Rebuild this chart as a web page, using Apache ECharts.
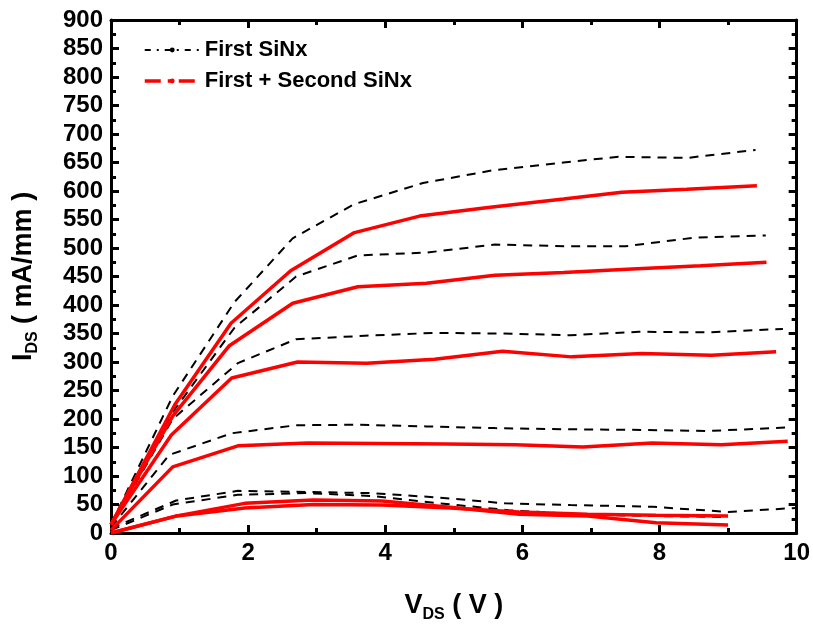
<!DOCTYPE html>
<html><head><meta charset="utf-8">
<script src="https://cdn.jsdelivr.net/npm/echarts@6/dist/echarts.min.js"></script>
<style>html,body{margin:0;padding:0;background:#fff}#c{width:813px;height:628px}</style>
</head><body><div id="c"></div>
<script>
// First SiNx (black dashed)
const vdsB1 = [0,0.9,1.8,2.65,3.55,4.55,5.55,6.6,7.4,8.4,9.4];
const idsB1 = [15,240,405,517,577,614,636,650,660,658,672];
const vdsB2 = [0,0.9,1.8,2.7,3.6,4.6,5.6,6.7,7.5,8.5,9.55];
const idsB2 = [15,212,360,450,487,492,506,503,503,518,522];
const vdsB3 = [0,0.9,1.85,2.7,3.7,4.7,5.7,6.7,7.7,8.7,9.8];
const idsB3 = [12,200,298,340,346,351,350,347,353,352,358];
const vdsB4 = [0,0.85,1.76,2.7,3.6,4.6,5.6,6.6,7.6,8.7,9.85];
const idsB4 = [10,137,175,189,190,187,184,182,181,179,185];
const vdsB5a = [0,0.95,1.85,2.85,3.8,4.8,5.75,6.7,7.9,9.0,10];
const idsB5a = [8,57,74,72,70,62,52,49,46,37,44];
const vdsB5b = [0,0.9,1.85,2.85,3.8,4.8,5.8,6.8,7.8,9.0];
const idsB5b = [5,50,67,70,65,52,40,33,30,28];
// First + Second SiNx (red solid)
const vdsR1 = [0,0.93,1.75,2.62,3.55,4.5,5.5,6.6,7.45,8.4,9.42];
const idsR1 = [15,225,368,460,527,556,571,586,598,603,609];
const vdsR2 = [0,0.9,1.72,2.65,3.6,4.6,5.6,6.6,7.6,8.6,9.56];
const idsR2 = [15,205,328,403,432,438,452,457,463,469,475];
const vdsR3 = [0,0.88,1.76,2.72,3.73,4.72,5.71,6.72,7.74,8.76,9.7];
const idsR3 = [15,172,272,300,298,305,319,309,315,312,318];
const vdsR4 = [0,0.9,1.85,2.87,3.9,4.9,5.9,6.88,7.89,8.9,9.87];
const idsR4 = [5,116,153,158,157,156,155,151,158,155,161];
const vdsR5a = [0,0.96,1.95,2.95,3.95,4.95,5.95,6.95,7.95,9.0];
const idsR5a = [0,30,52,58,56,45,33,30,18,14];
const vdsR5b = [0,0.96,1.95,2.95,3.95,4.95,5.95,6.95,7.95,9.0];
const idsR5b = [0,30,44,50,49,44,37,33,31,30];

const nameB = 'First SiNx';
const nameR = 'First + Second SiNx';
const xTicks = [0,2,4,6,8,10];

const zip = (xs, ys) => xs.map((x,i)=>[x, ys[i]]);
const blackCurves = [[vdsB1,idsB1],[vdsB2,idsB2],[vdsB3,idsB3],[vdsB4,idsB4],[vdsB5a,idsB5a],[vdsB5b,idsB5b]];
const redCurves = [[vdsR1,idsR1],[vdsR2,idsR2],[vdsR3,idsR3],[vdsR4,idsR4],[vdsR5a,idsR5a],[vdsR5b,idsR5b]];

const series = [];
blackCurves.forEach(c => series.push({
  name: nameB, type:'line', data: zip(c[0], c[1]), symbol:'none', z:2,
  lineStyle:{color:'#000', width:2, type:[9,7]}, itemStyle:{color:'#000'}, animation:false
}));
redCurves.forEach(c => series.push({
  name: nameR, type:'line', data: zip(c[0], c[1]), symbol:'none', z:3,
  lineStyle:{color:'#ff0000', width:3.5, type:'solid'}, itemStyle:{color:'#ff0000'}, animation:false
}));

const font = 'Liberation Sans, Arial, sans-serif';
const tickFont = '"Liberation Sans Narrow", "Arial Narrow", Liberation Sans, sans-serif';
const axisCommon = () => ({
  axisLine:{show:true, onZero:false, lineStyle:{color:'#000', width:3}},
  axisTick:{show:true, inside:true, length:8, lineStyle:{color:'#000', width:3}},
  minorTick:{show:true, splitNumber:2, length:5, lineStyle:{color:'#000', width:3}},
  splitLine:{show:false}
});

const chart = echarts.init(document.getElementById('c'), null, {renderer:'canvas'});
chart.setOption({
  animation:false,
  backgroundColor:'#fff',
  grid:{left:111, right:16, top:20, bottom:95},
  legend:{
    left:138, top:34, orient:'vertical', itemGap:9, itemWidth:55, itemHeight:6,
    textStyle:{fontFamily:font, fontWeight:'bold', fontSize:22, color:'#000'},
    data:[
      {name:nameB, itemStyle:{color:'#000'}, lineStyle:{type:[6,6,2,6], width:2, color:'#000'}},
      {name:nameR, itemStyle:{color:'#ff0000'}, lineStyle:{type:[16,7,4,7], width:3.5, color:'#ff0000'}}
    ]
  },
  xAxis:[
    Object.assign({type:'value', min:0, max:10, interval:2, position:'bottom',
      name:'{m|V}{s|DS}{m| ( V )}', nameLocation:'middle', nameGap:56,
      nameTextStyle:{rich:{
        m:{fontFamily:font, fontWeight:'bold', fontSize:27, color:'#000'},
        s:{fontFamily:font, fontWeight:'bold', fontSize:16, color:'#000', padding:[18,0,0,0]}}},
      axisLabel:{fontFamily:tickFont, fontWeight:'bold', fontSize:24, color:'#000', margin:8,
        formatter: v => xTicks.includes(v) ? String(v) : ''}}, axisCommon()),
    Object.assign({type:'value', min:0, max:10, interval:2, position:'top',
      axisLabel:{show:false}}, axisCommon())
  ],
  yAxis:[
    Object.assign({type:'value', min:0, max:900, interval:50, position:'left',
      name:'{m|I}{s|DS}{m| ( mA/mm )}', nameLocation:'middle', nameGap:70, nameRotate:90,
      nameTextStyle:{rich:{
        m:{fontFamily:font, fontWeight:'bold', fontSize:27, color:'#000'},
        s:{fontFamily:font, fontWeight:'bold', fontSize:16, color:'#000', padding:[18,0,0,0]}}},
      axisLabel:{fontFamily:tickFont, fontWeight:'bold', fontSize:24, color:'#000', margin:8}}, axisCommon()),
    Object.assign({type:'value', min:0, max:900, interval:50, position:'right',
      axisLabel:{show:false}}, axisCommon())
  ],
  series: series
});
</script></body></html>
